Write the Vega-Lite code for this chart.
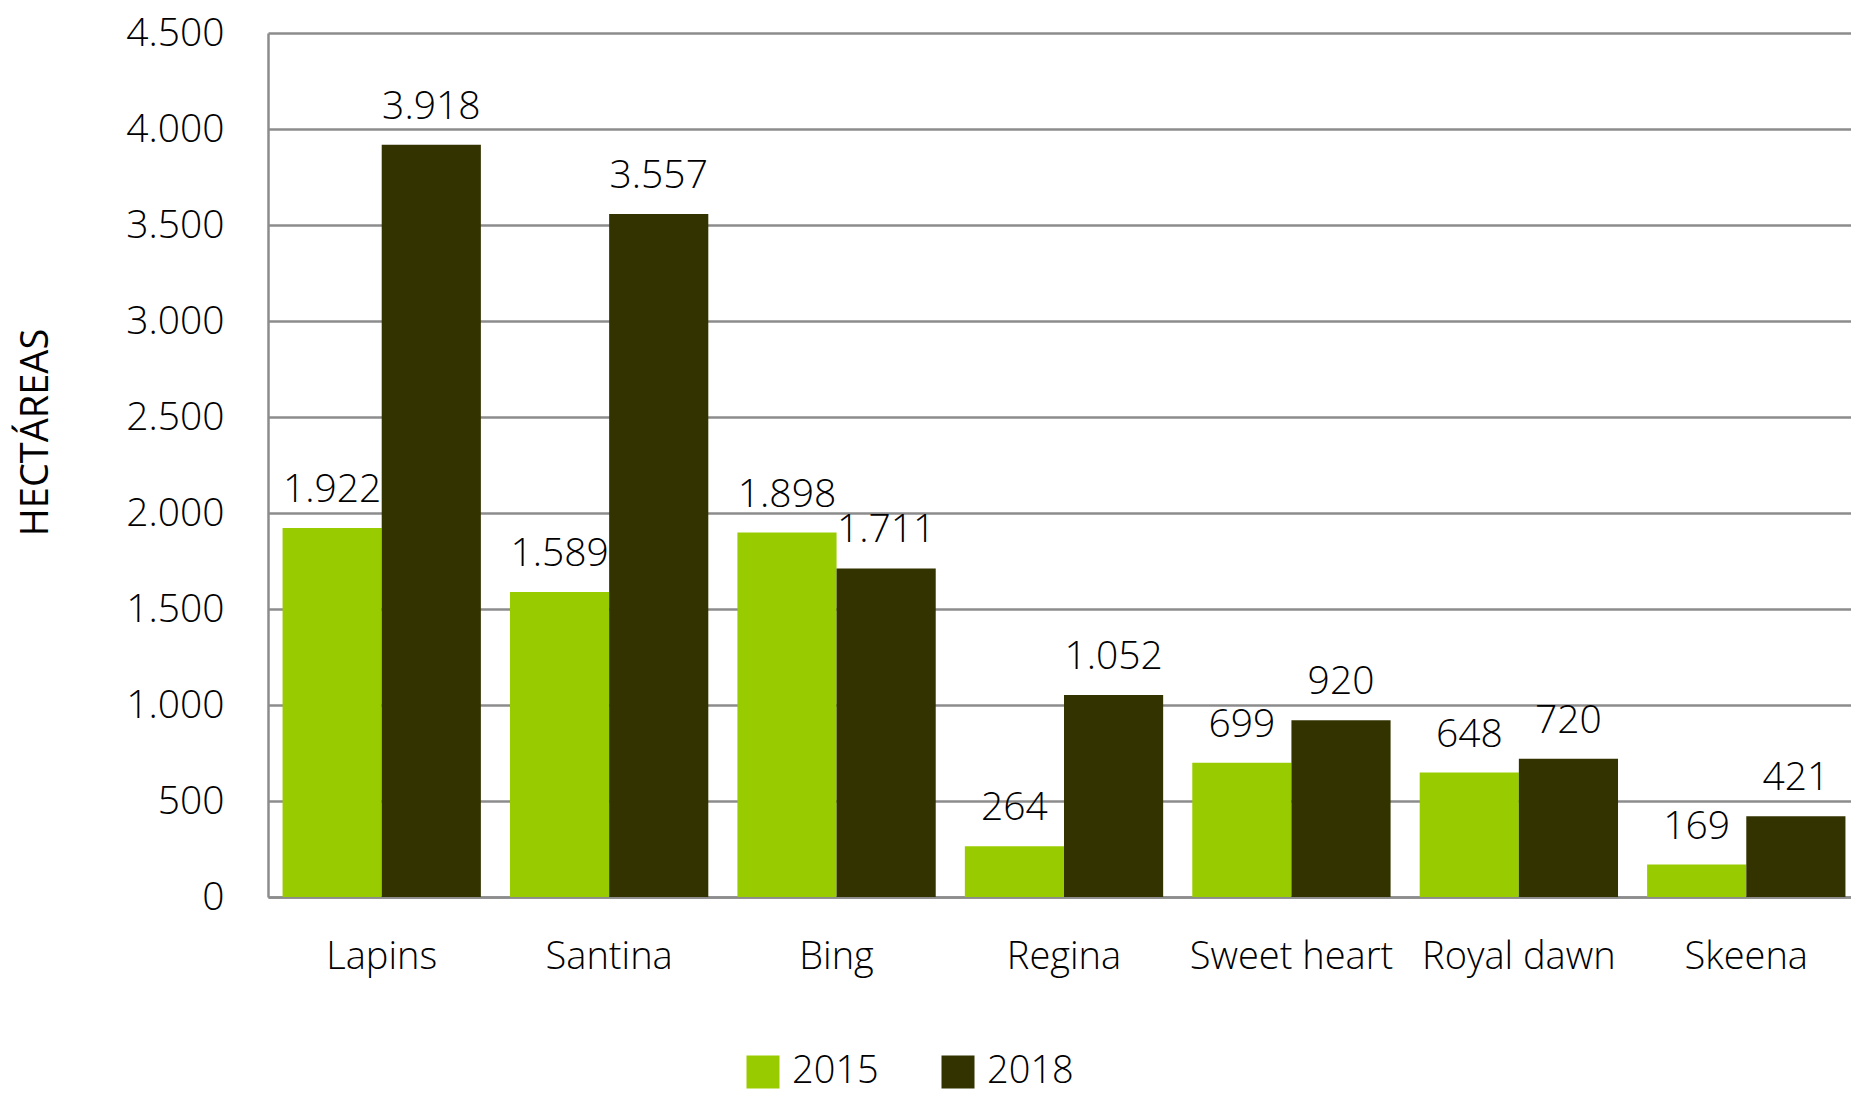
{
  "$schema": "https://vega.github.io/schema/vega-lite/v6.json",
  "width": 1592,
  "height": 864,
  "autosize": {"type": "none"},
  "padding": {"left": 268, "top": 33, "right": 0, "bottom": 197},
  "background": "white",
  "config": {
    "locale": {"number": {"decimal": ",", "thousands": ".", "grouping": [3], "currency": ["", ""]}},
    "view": {"stroke": null},
    "font": "Open Sans",
    "axis": {"labelFont": "Open Sans", "labelFontWeight": 300, "labelColor": "#000000", "titleFont": "Open Sans", "titleColor": "#000000"}
  },
  "data": {
    "values": [
      {"variedad": "Lapins", "year": "2015", "ha": 1922},
      {"variedad": "Lapins", "year": "2018", "ha": 3918},
      {"variedad": "Santina", "year": "2015", "ha": 1589},
      {"variedad": "Santina", "year": "2018", "ha": 3557},
      {"variedad": "Bing", "year": "2015", "ha": 1898},
      {"variedad": "Bing", "year": "2018", "ha": 1711},
      {"variedad": "Regina", "year": "2015", "ha": 264},
      {"variedad": "Regina", "year": "2018", "ha": 1052},
      {"variedad": "Sweet heart", "year": "2015", "ha": 699},
      {"variedad": "Sweet heart", "year": "2018", "ha": 920},
      {"variedad": "Royal dawn", "year": "2015", "ha": 648},
      {"variedad": "Royal dawn", "year": "2018", "ha": 720},
      {"variedad": "Skeena", "year": "2015", "ha": 169},
      {"variedad": "Skeena", "year": "2018", "ha": 421}
    ]
  },
  "encoding": {
    "x": {
      "field": "variedad", "type": "nominal", "sort": null,
      "scale": {"paddingInner": 0.128, "paddingOuter": 0.064},
      "axis": {"title": null, "labelAngle": 0, "labelFontSize": 38, "labelPadding": 71, "labelLimit": 600, "ticks": false, "domainColor": "#8c8c8c", "domainWidth": 2.5, "labelBaseline": "alphabetic"}
    },
    "xOffset": {"field": "year", "type": "nominal"},
    "y": {
      "field": "ha", "type": "quantitative",
      "scale": {"domain": [0, 4500], "nice": false},
      "axis": {
        "title": "HECTÁREAS", "titleFontSize": 38, "titleFontWeight": "normal", "titleAngle": 270,
        "titleX": -232, "titleY": 399, "titleAlign": "center", "titleBaseline": "middle",
        "values": [0, 500, 1000, 1500, 2000, 2500, 3000, 3500, 4000, 4500],
        "format": ",.0f", "labelFontSize": 39, "labelPadding": 44, "ticks": false,
        "grid": true, "gridColor": "#8c8c8c", "gridWidth": 2.5,
        "domainColor": "#8c8c8c", "domainWidth": 2.5
      }
    }
  },
  "layer": [
    {
      "mark": {"type": "bar"},
      "encoding": {
        "color": {
          "field": "year", "type": "nominal",
          "scale": {"domain": ["2015", "2018"], "range": ["#99cc00", "#333300"]},
          "legend": {
            "title": null, "orient": "none", "direction": "horizontal",
            "legendX": 476, "legendY": 1020,
            "symbolType": "square", "symbolSize": 1089, "symbolStrokeWidth": 0, "symbolOpacity": 1,
            "labelFont": "Open Sans", "labelFontWeight": 300, "labelFontSize": 38, "labelColor": "#000000",
            "labelOffset": 10, "columnPadding": 60
          }
        }
      }
    },
    {
      "mark": {"type": "text", "baseline": "alphabetic", "dy": -26, "fontSize": 39, "fontWeight": 300, "font": "Open Sans", "color": "#000000"},
      "encoding": {
        "text": {"field": "ha", "type": "quantitative", "format": ","}
      }
    }
  ]
}
